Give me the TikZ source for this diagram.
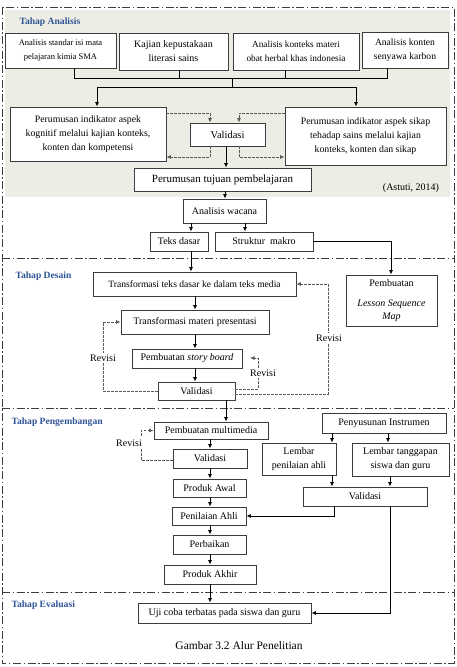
\documentclass[tikz,border=0pt]{standalone}
\usepackage{fontspec}
\setmainfont{Liberation Serif}
\usetikzlibrary{arrows.meta,calc}
\definecolor{beige}{RGB}{238,237,229}
\definecolor{tahap}{RGB}{47,84,150}
\definecolor{bord}{RGB}{60,60,60}
\newcommand{\fsz}[2]{\fontsize{#1pt}{#2pt}\selectfont}
\tikzset{
  box/.style={draw=bord, line width=0.9pt, fill=white, inner sep=1pt, align=center, font=\fsz{9.5}{13.5}},
  arr/.style={-{Latex[length=4.5pt,width=4pt]}, line width=0.8pt},
  dsh/.style={dash pattern=on 2.5pt off 1.5pt, draw=black!65, line width=0.8pt},
  dsharr/.style={dsh, -{Latex[length=4.5pt,width=4pt]}},
  framel/.style={draw=bord, line width=0.9pt, dash pattern=on 8pt off 2.5pt on 1.5pt off 2.5pt},
  lbl/.style={font=\bfseries\fsz{9.6}{11}, text=tahap, anchor=west},
  rev/.style={fill=white, inner sep=1.5pt, font=\fsz{10}{12}}
}
\begin{document}
\begin{tikzpicture}[x=1pt,y=-1pt]
\useasboundingbox (0,0) rectangle (457,667);
% backgrounds and frame
\fill[beige] (5,10) rectangle (450,197);
\draw[framel] (2,7) rectangle (454,663);
\draw[framel] (2,258) -- (454,258);
\draw[framel] (2,408) -- (454,408);
\draw[framel] (2,592) -- (454,592);
% stage labels
\node[lbl] (la) at (16,22) {Tahap Analisis};
\node[lbl] (ld) at (12,276) {Tahap Desain};
\node[lbl] (lp2) at (8,422) {Tahap Pengembangan};
\node[lbl] (le) at (8,605) {Tahap Evaluasi};
% ---- Analisis
\node[box, minimum width=111pt, minimum height=35pt, font=\fsz{8.5}{13.5}] (a1) at (60.5,50.5) {Analisis standar isi mata\\pelajaran kimia SMA};
\node[box, minimum width=109pt, minimum height=37pt, font=\fsz{10}{14}] (a2) at (173.5,51.5) {Kajian kepustakaan\\literasi sains};
\node[box, minimum width=126pt, minimum height=37pt, font=\fsz{9.3}{14}] (a3) at (296,51.5) {Analisis konteks materi\\obat herbal khas indonesia};
\node[box, minimum width=86pt, minimum height=36pt, font=\fsz{9.6}{14}] (a4) at (405,50) {Analisis konten\\senyawa karbon};
\coordinate (j1) at (74,78);
\coordinate (j2) at (179,78);
\coordinate (j3) at (285,78);
\coordinate (j4) at (387,78);
\coordinate (jm) at (232,78);
\coordinate (jl) at (97,87);
\coordinate (jr) at (356,87);
\draw[line width=0.8pt] (a1.south -| j1) -- (j1) -- (j4) -- (a4.south -| j4);
\draw[line width=0.8pt] (a2.south -| j2) -- (j2);
\draw[line width=0.8pt] (a3.south -| j3) -- (j3);
\draw[line width=0.8pt] (jm) -- (jm |- jl);
\draw[line width=0.8pt] (jl) -- (jr);
\node[box, minimum width=156pt, minimum height=54pt, font=\fsz{9.8}{14}] (b1) at (88,134) {Perumusan indikator aspek\\kognitif melalui kajian konteks,\\konten dan kompetensi};
\node[box, minimum width=161pt, minimum height=58pt, font=\fsz{9.8}{14}] (b2) at (365.5,136) {Perumusan indikator aspek sikap\\tehadap sains melalui kajian\\konteks, konten dan sikap};
\draw[arr] (jl) -- (b1.north -| jl);
\draw[arr] (jr) -- (b2.north -| jr);
\node[box, minimum width=75pt, minimum height=23pt, font=\fsz{10.5}{13}] (v1) at (227.5,134.5) {Validasi};
\coordinate (d1) at (210,113);
\coordinate (d2) at (239,113);
\coordinate (d3) at (210,157);
\coordinate (d4) at (239,157);
\draw[dsharr] (b1.east |- d1) -- (d1) -- (v1.north -| d1);
\draw[dsharr] (b2.west |- d2) -- (d2) -- (v1.north -| d2);
\draw[dsharr] (v1.south -| d3) -- (d3) -- (b1.east |- d3);
\draw[dsharr] (v1.south -| d4) -- (d4) -- (b2.west |- d4);
\node[box, minimum width=177pt, minimum height=23pt, font=\fsz{11}{13}] (t1) at (222.5,179.5) {Perumusan tujuan pembelajaran};
\draw[arr] (v1.south -| 226,0) -- (t1.north -| 226,0);
\node[font=\fsz{10}{12}] (ast) at (411,188) {(Astuti, 2014)};
\node[box, minimum width=83pt, minimum height=24pt, font=\fsz{10}{12}] (aw) at (224.5,211) {Analisis wacana};
\draw[arr] (t1.south -| 225,0) -- (aw.north -| 225,0);
\node[box, minimum width=58pt, minimum height=19pt, font=\fsz{10}{12}] (td) at (179,241.5) {Teks dasar};
\node[box, minimum width=98pt, minimum height=19pt, font=\fsz{10}{12}] (sm) at (264,241.5) {Struktur\ \ makro};
\draw[arr] (aw.south -| 191,0) -- (td.north -| 191,0);
\draw[arr] (aw.south -| 245,0) -- (sm.north -| 245,0);
% ---- Desain
\node[box, minimum width=203pt, minimum height=24pt, font=\fsz{9.6}{12}] (tt) at (194.5,284) {Transformasi teks dasar ke dalam teks media};
\node[box, minimum width=91pt, minimum height=51pt, font=\fsz{10}{13}] (lsm) at (391.5,300.5) {Pembuatan\\[7pt]\textit{Lesson Sequence}\\\textit{Map}};
\draw[arr] (td.south -| 191,0) -- (tt.north -| 191,0);
\coordinate (sj) at (391,241.5);
\draw[arr] (sm.east) -- (sj) -- (lsm.north -| sj);
\node[box, minimum width=148pt, minimum height=24pt, font=\fsz{10}{12}] (tm) at (195,322) {Transformasi materi presentasi};
\node[box, minimum width=110pt, minimum height=19pt, font=\fsz{10}{12}] (sb) at (187,358.5) {Pembuatan \textit{story board}};
\node[box, minimum width=77pt, minimum height=18pt, font=\fsz{10}{12}] (vd) at (196.5,391) {Validasi};
\draw[arr] (tt.south -| 195,0) -- (tm.north -| 195,0);
\draw[arr] (tm.south -| 195,0) -- (sb.north -| 195,0);
\draw[arr] (sb.south -| 195,0) -- (vd.north -| 195,0);
% revisi loops design
\draw[dsharr] (vd.west) -- (vd.west -| 103,0) -- (tm.west -| 103,0) -- (tm.west);
\node[rev] (r1) at (103,358) {Revisi};
\coordinate (rs) at (250,358);
\draw[dsharr] ([yshift=2pt]vd.east) -- ([yshift=2pt]vd.east -| 258,0) -- (258,358) -- (rs);
\node[rev] (r2) at (263,373) {Revisi};
\draw[dsharr] ([yshift=-3pt]vd.east) -- ([yshift=-3pt]vd.east -| 328,0) -- (tt.east -| 328,0) -- (tt.east);
\node[rev] (r3) at (329,338) {Revisi};
% ---- Pengembangan
\node[box, minimum width=114pt, minimum height=17pt, font=\fsz{10}{12}] (pm) at (211,430.5) {Pembuatan multimedia};
\draw[arr] (vd.south -| 226,0) -- (pm.north -| 226,0);
\node[box, minimum width=74pt, minimum height=19pt, font=\fsz{10}{12}] (vv) at (210,458.5) {Validasi};
\node[box, minimum width=73pt, minimum height=18pt, font=\fsz{10}{12}] (pa) at (209.5,488) {Produk Awal};
\node[box, minimum width=74pt, minimum height=18pt, font=\fsz{10}{12}] (pn) at (209,516) {Penilaian Ahli};
\node[box, minimum width=73pt, minimum height=19pt, font=\fsz{10}{12}] (pb) at (209.5,544.5) {Perbaikan};
\node[box, minimum width=92pt, minimum height=19pt, font=\fsz{10}{12}] (pk) at (210,574.5) {Produk Akhir};
\draw[arr] (pm.south -| 210,0) -- (vv.north -| 210,0);
\draw[arr] (vv.south -| 210,0) -- (pa.north -| 210,0);
\draw[arr] (pa.south -| 210,0) -- (pn.north -| 210,0);
\draw[arr] (pn.south -| 210,0) -- (pb.north -| 210,0);
\draw[arr] (pb.south -| 210,0) -- (pk.north -| 210,0);
\draw[dsharr] ([yshift=-1.5pt]vv.west) -- ([yshift=-1.5pt]vv.west -| 141,0) -- (pm.west -| 141,0) -- (pm.west);
\node[rev, inner ysep=3pt] (r4) at (129,443) {Revisi};
\node[box, minimum width=124pt, minimum height=20pt, font=\fsz{10}{12}] (pi) at (384,423) {Penyusunan Instrumen};
\node[box, minimum width=74pt, minimum height=32pt, font=\fsz{10}{14}] (lp) at (299,459) {Lembar\\penilaian ahli};
\node[box, minimum width=97pt, minimum height=33pt, font=\fsz{10}{14}] (lt) at (400.5,459.5) {Lembar tanggapan\\siswa dan guru};
\node[box, minimum width=124pt, minimum height=19pt, font=\fsz{10}{12}] (vr) at (365,496.5) {Validasi};
\draw[arr] (pi.south -| 332,0) -- (lp.north -| 332,0);
\draw[arr] (pi.south -| 388,0) -- (lt.north -| 388,0);
\draw[arr] (lp.south -| 332,0) -- (vr.north -| 332,0);
\draw[arr] (lt.south -| 390,0) -- (vr.north -| 390,0);
\draw[arr] (vr.south -| 334,0) -- (pn.east -| 334,0) -- (pn.east);
% ---- Evaluasi
\node[box, minimum width=173pt, minimum height=20pt, font=\fsz{10}{12}] (uc) at (224.5,613) {Uji coba terbatas pada siswa dan guru};
\draw[arr] (pk.south -| 210,0) -- (uc.north -| 210,0);
\draw[arr] (vr.south -| 390,0) -- (uc.east -| 390,0) -- (uc.east);
\node[font=\fsz{11.5}{13}] (cap) at (239,646) {Gambar 3.2 Alur Penelitian};
\end{tikzpicture}
\end{document}
